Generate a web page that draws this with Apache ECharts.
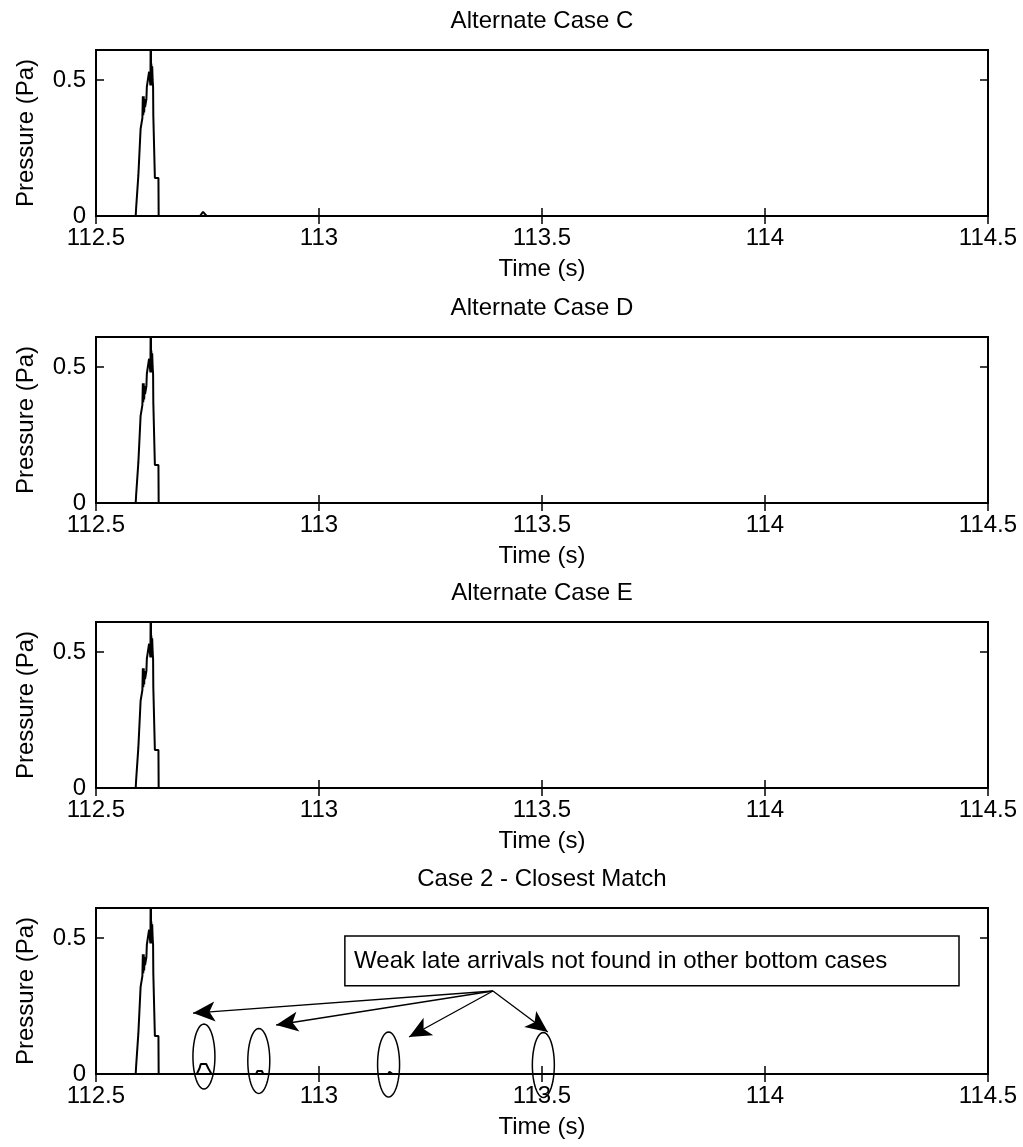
<!DOCTYPE html>
<html>
<head>
<meta charset="utf-8">
<script src="https://cdn.jsdelivr.net/npm/echarts@6/dist/echarts.min.js"></script>
<style>
  html, body { margin: 0; padding: 0; background: #fff; }
  #chart { width: 1023px; height: 1147px; }
</style>
</head>
<body>
<div id="chart"></div>
<script>
// panel titles
const titles = ['Alternate Case C', 'Alternate Case D', 'Alternate Case E', 'Case 2 - Closest Match'];

// main arrival, same in all four panels (s, Pa)
const peakTime = [112.547, 112.589, 112.590, 112.594, 112.595, 112.599, 112.600, 112.603, 112.604, 112.605, 112.606, 112.607, 112.608, 112.609, 112.610, 112.613, 112.614, 112.618, 112.619, 112.6215, 112.622, 112.623, 112.6235, 112.624, 112.625, 112.626, 112.627, 112.628, 112.6285, 112.6315, 112.632, 112.640, 112.6405];
const peakPressure = [0, 0, 0.03, 0.03, 0.15, 0.15, 0.32, 0.32, 0.36, 0.44, 0.37, 0.44, 0.38, 0.43, 0.40, 0.43, 0.475, 0.475, 0.53, 0.53, 0.48, 0.80, 0.49, 0.56, 0.48, 0.55, 0.50, 0.475, 0.37, 0.37, 0.14, 0.14, 0];

// late arrivals per panel
const lateTimeC = [112.733, 112.740, 112.748];
const latePressureC = [0, 0.015, 0];
const lateTimeD = [];
const latePressureD = [];
const lateTimeE = [];
const latePressureE = [];
const lateTime2 = [112.726, 112.732, 112.735, 112.747, 112.752, 112.759, 112.859, 112.862, 112.872, 112.875, 113.155, 113.158, 113.162, 113.165];
const latePressure2 = [0, 0.02, 0.037, 0.037, 0.02, 0, 0, 0.011, 0.011, 0, 0, 0.008, 0.008, 0];

const endTime = 114.5;

// annotation on the last panel (data coords)
const noteText = 'Weak late arrivals not found in other bottom cases';
const noteBoxTime = [113.058, 114.435];
const noteBoxPressure = [0.507, 0.324];
const arrowFrom = [113.39, 0.305];
const arrowTipTime = [112.7175, 112.904, 113.202, 113.513];
const arrowTipPressure = [0.224, 0.180, 0.136, 0.154];
const ellipseTime = [112.742, 112.865, 113.156, 113.503];
const ellipsePressure = [0.064, 0.048, 0.035, 0.033];

const lateTimes = [lateTimeC, lateTimeD, lateTimeE, lateTime2];
const latePressures = [latePressureC, latePressureD, latePressureE, latePressure2];

const gridTops = [50, 337, 622, 908];
const gridH = 166;
const font = 'Liberation Sans, Arial, sans-serif';

function buildData(i) {
  const d = peakTime.map((t, k) => [t, peakPressure[k]]);
  lateTimes[i].forEach((t, k) => d.push([t, latePressures[i][k]]));
  d.push([endTime, 0]);
  return d;
}

const chart = echarts.init(document.getElementById('chart'));

const option = {
  animation: false,
  backgroundColor: '#fff',
  title: [],
  grid: [],
  xAxis: [],
  yAxis: [],
  series: []
};

const tickStyle = { inside: true, length: 8, lineStyle: { color: '#000', width: 1.5 } };

titles.forEach((name, i) => {
  option.title.push({
    text: name,
    left: 542,
    top: gridTops[i] - 41,
    textAlign: 'center',
    padding: 0,
    textStyle: { fontFamily: font, fontSize: 24, fontWeight: 'normal', color: '#000' }
  });
  option.grid.push({
    left: 96, right: 35, top: gridTops[i], height: gridH,
    show: true, borderColor: '#000', borderWidth: 2, backgroundColor: '#fff'
  });
  option.xAxis.push({
    type: 'value', gridIndex: i, min: 112.5, max: 114.5, interval: 0.5,
    axisLine: { show: false },
    axisTick: tickStyle,
    splitLine: { show: false },
    axisLabel: { fontFamily: font, fontSize: 24, color: '#000', margin: 10 },
    name: 'Time (s)', nameLocation: 'middle', nameGap: 41,
    nameTextStyle: { fontFamily: font, fontSize: 24, color: '#000' }
  });
  option.xAxis.push({
    type: 'value', gridIndex: i, position: 'top', min: 112.5, max: 114.5, interval: 0.5,
    axisLine: { show: false }, axisTick: tickStyle,
    axisLabel: { show: false }, splitLine: { show: false }
  });
  option.yAxis.push({
    type: 'value', gridIndex: i, min: 0, max: 0.61, interval: 0.5,
    axisLine: { show: false }, axisTick: tickStyle,
    splitLine: { show: false },
    axisLabel: { fontFamily: font, fontSize: 24, color: '#000', margin: 10, showMaxLabel: false },
    name: 'Pressure (Pa)', nameLocation: 'middle', nameGap: 58,
    nameTextStyle: { fontFamily: font, fontSize: 24, color: '#000' }
  });
  option.yAxis.push({
    type: 'value', gridIndex: i, position: 'right', min: 0, max: 0.61, interval: 0.5,
    axisLine: { show: false }, axisTick: tickStyle,
    axisLabel: { show: false }, splitLine: { show: false }
  });
  const s = {
    type: 'line',
    xAxisIndex: i * 2,
    yAxisIndex: i * 2,
    data: buildData(i),
    showSymbol: false,
    lineStyle: { color: '#000', width: 2 },
    z: 3
  };
  if (i === 3) {
    s.markLine = {
      silent: true,
      symbol: ['none', 'arrow'],
      symbolSize: [15, 22],
      label: { show: false },
      lineStyle: { color: '#000', width: 1.3, type: 'solid' },
      data: arrowTipTime.map((t, k) => [
        { coord: arrowFrom },
        { coord: [t, arrowTipPressure[k]] }
      ])
    };
    s.markArea = {
      silent: true,
      itemStyle: { color: '#fff', borderColor: '#000', borderWidth: 1.5 },
      label: {
        show: true, position: 'insideLeft', distance: 10,
        fontFamily: font, fontSize: 24, color: '#000'
      },
      data: [[
        { name: noteText, coord: [noteBoxTime[0], noteBoxPressure[0]] },
        { coord: [noteBoxTime[1], noteBoxPressure[1]] }
      ]]
    };
  }
  option.series.push(s);
});

chart.setOption(option);

// ellipses round the weak arrivals
const rx = 11, ry = 32.5;
const ellipses = ellipseTime.map((t, k) => {
  const c = chart.convertToPixel({ gridIndex: 3 }, [t, ellipsePressure[k]]);
  const pts = [];
  for (let a = 0; a < 48; a++) {
    const ang = a / 48 * Math.PI * 2;
    pts.push([c[0] + rx * Math.cos(ang), c[1] + ry * Math.sin(ang)]);
  }
  return {
    type: 'polygon',
    shape: { points: pts },
    style: { fill: null, stroke: '#000', lineWidth: 1.5 },
    z: 10,
    silent: true
  };
});
chart.setOption({ graphic: ellipses });
</script>
</body>
</html>
